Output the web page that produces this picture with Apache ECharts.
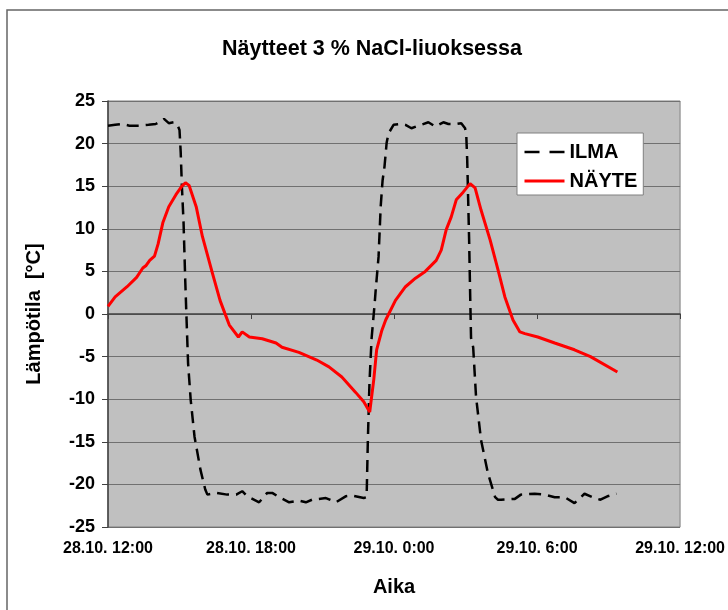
<!DOCTYPE html>
<html>
<head>
<meta charset="utf-8">
<script src="https://cdn.jsdelivr.net/npm/echarts@6/dist/echarts.min.js"></script>
<style>
html,body{margin:0;padding:0;background:#fff;}
#chart{width:728px;height:610px;}
</style>
</head>
<body>
<div id="chart"></div>
<script>
// Hours since 28.10. 12:00
var xTickLabels = ['28.10. 12:00', '28.10. 18:00', '29.10. 0:00', '29.10. 6:00', '29.10. 12:00'];

var ilmaHours = [0, 0.3, 0.6, 0.9, 1.3, 1.7, 2.0, 2.2, 2.35, 2.55, 2.75, 2.9, 3.0, 3.05, 3.1, 3.17, 3.24, 3.3, 3.36, 3.47, 3.63, 3.88, 4.08, 4.17, 4.55, 5.0, 5.38, 5.63, 5.84, 6.34, 6.68, 6.89, 7.18, 7.6, 8.01, 8.3, 8.56, 9.14, 9.56, 9.97, 10.23, 10.73, 10.85, 10.9, 10.97, 11.06, 11.19, 11.23, 11.35, 11.44, 11.52, 11.6, 11.69, 11.77, 11.98, 12.31, 12.48, 12.73, 13.02, 13.44, 13.73, 14.07, 14.28, 14.6, 14.82, 14.98, 15.03, 15.07, 15.11, 15.15, 15.19, 15.23, 15.32, 15.44, 15.65, 15.94, 16.24, 16.36, 16.49, 17.07, 17.32, 17.9, 18.32, 18.74, 19.16, 19.57, 19.99, 20.41, 20.66, 20.95, 21.33];
var ilmaValues = [22.1, 22.2, 22.3, 22.1, 22.1, 22.2, 22.3, 22.6, 22.9, 22.4, 22.5, 22.3, 21.6, 19, 15, 10.7, 4, -1, -5.8, -10.1, -14.4, -18.3, -20.6, -21.2, -21.0, -21.2, -21.2, -20.8, -21.4, -22.1, -21.0, -21.0, -21.5, -22.1, -21.9, -22.1, -21.8, -21.6, -22.1, -21.4, -21.3, -21.6, -21.5, -15, -8, -2.8, 1.3, 2.8, 6.7, 12.6, 15.7, 17.3, 20.1, 21.2, 22.2, 22.3, 22.2, 21.8, 22.1, 22.5, 22.0, 22.5, 22.3, 22.3, 22.4, 21.8, 21.0, 18.1, 13.4, 8.7, 2.8, -2.8, -3.9, -9.7, -14.8, -18.7, -21.5, -21.8, -21.8, -21.7, -21.2, -21.1, -21.2, -21.5, -21.5, -22.2, -21.1, -21.6, -21.8, -21.4, -21.1];

var nayteHours = [0, 0.3, 0.8, 1.2, 1.46, 1.6, 1.75, 1.95, 2.1, 2.3, 2.55, 2.85, 3.1, 3.25, 3.4, 3.7, 3.96, 4.38, 4.7, 4.9, 5.09, 5.47, 5.63, 5.93, 6.47, 7.05, 7.3, 8.01, 8.76, 9.27, 9.81, 10.39, 10.73, 10.98, 11.15, 11.27, 11.48, 11.65, 12.06, 12.48, 12.9, 13.31, 13.77, 13.98, 14.19, 14.4, 14.61, 14.9, 15.19, 15.4, 15.65, 16.03, 16.36, 16.65, 16.99, 17.28, 17.49, 18.03, 18.74, 19.57, 20.24, 21.37];
var nayteValues = [0.9, 2.0, 3.2, 4.3, 5.4, 5.7, 6.3, 6.8, 8.2, 10.7, 12.6, 14.0, 15.0, 15.4, 15.1, 12.6, 9.1, 4.8, 1.6, 0.1, -1.3, -2.7, -2.1, -2.7, -2.9, -3.4, -3.9, -4.5, -5.4, -6.2, -7.4, -9.2, -10.3, -11.5, -7.7, -4.2, -2.0, -0.7, 1.6, 3.2, 4.2, 5.0, 6.3, 7.5, 9.9, 11.4, 13.4, 14.3, 15.3, 14.8, 12.2, 8.7, 5.2, 2.0, -0.7, -2.1, -2.3, -2.7, -3.4, -4.2, -5.0, -6.8];

function zip(a, b) { return a.map(function (v, i) { return [v, b[i]]; }); }

var FONT = '"Liberation Sans", Arial, sans-serif';
var chart = echarts.init(document.getElementById('chart'), null, {renderer: 'canvas'});
chart.setOption({
  animation: false,
  backgroundColor: '#ffffff',
  graphic: [{
    type: 'rect', z: -10, silent: true,
    shape: {x: 7, y: 10, width: 800, height: 700},
    style: {fill: null, stroke: '#666666', lineWidth: 1.5}
  }],
  title: {
    text: 'Näytteet 3 % NaCl-liuoksessa',
    left: 217, top: 33,
    textStyle: {fontFamily: FONT, fontSize: 21.5, fontWeight: 'bold', color: '#000'}
  },
  legend: {
    orient: 'vertical',
    left: 517, top: 133,
    padding: [9, 6, 4, 6],
    itemGap: 9,
    itemWidth: 40,
    itemHeight: 14,
    backgroundColor: '#ffffff',
    borderColor: '#808080',
    borderWidth: 1,
    itemStyle: {opacity: 0},
    textStyle: {fontFamily: FONT, fontSize: 20, fontWeight: 'bold', color: '#000'},
    data: [
      {name: 'ILMA', lineStyle: {width: 2.5, type: [15, 10]}},
      {name: 'NÄYTE', lineStyle: {width: 3}}
    ]
  },
  grid: {
    left: 108, right: 42, top: 101, bottom: 83,
    show: true, backgroundColor: '#c0c0c0', borderColor: '#808080', borderWidth: 1
  },
  xAxis: {
    type: 'value', min: 0, max: 24, interval: 6,
    name: 'Aika', nameLocation: 'middle', nameGap: 50,
    nameTextStyle: {fontFamily: FONT, fontSize: 20, fontWeight: 'bold', color: '#000'},
    axisLine: {show: true, lineStyle: {color: '#404040', width: 1.5}},
    axisTick: {show: true, length: 5, lineStyle: {color: '#404040', width: 1}},
    axisLabel: {
      fontFamily: FONT, fontSize: 16, fontWeight: 'bold', color: '#000', margin: 14,
      formatter: function (v) { return xTickLabels[Math.round(v / 6)]; }
    },
    splitLine: {show: false}
  },
  yAxis: {
    type: 'value', min: -25, max: 25, interval: 5,
    name: 'Lämpötila  [°C]', nameLocation: 'middle', nameGap: 64, nameRotate: 90,
    nameTextStyle: {fontFamily: FONT, fontSize: 20, fontWeight: 'bold', color: '#000'},
    axisLine: {show: true, lineStyle: {color: '#404040', width: 1.5}},
    axisTick: {show: true, length: 6, lineStyle: {color: '#404040', width: 1}},
    axisLabel: {fontFamily: FONT, fontSize: 18, fontWeight: 'bold', color: '#000', margin: 13},
    splitLine: {show: true, lineStyle: {color: '#707070', width: 1.2}}
  },
  series: [
    {
      name: 'ILMA', type: 'line', symbol: 'none', smooth: false,
      data: zip(ilmaHours, ilmaValues),
      lineStyle: {color: '#000000', width: 2.5, type: [12, 7]},
      itemStyle: {color: '#000000'},
      z: 2
    },
    {
      name: 'NÄYTE', type: 'line', symbol: 'none', smooth: false,
      data: zip(nayteHours, nayteValues),
      lineStyle: {color: '#ff0000', width: 3},
      itemStyle: {color: '#ff0000'},
      z: 3
    }
  ]
});
</script>
</body>
</html>
